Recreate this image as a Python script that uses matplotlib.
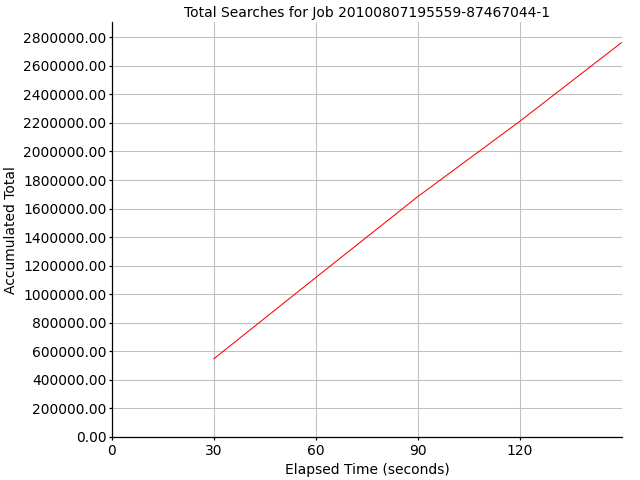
import matplotlib
matplotlib.use('Agg')
import matplotlib.pyplot as plt
from matplotlib.ticker import FormatStrFormatter

# elapsed seconds and accumulated total searches
elapsed = [30, 60, 90, 120, 150]
total = [548000, 1117000, 1683000, 2210000, 2762000]

title = 'Total Searches for Job 20100807195559-87467044-1'

fig = plt.figure(figsize=(6.4, 4.8), dpi=100)
ax = fig.add_axes([0.175, 0.0896, 0.797, 0.864])

ax.plot(elapsed, total, color='red', linewidth=0.75)

ax.set_xlim(0, 150.2)
ax.set_ylim(0, 2905000)
ax.set_xticks([0, 30, 60, 90, 120])
ax.set_yticks(range(0, 2800001, 200000))
ax.yaxis.set_major_formatter(FormatStrFormatter('%.2f'))

ax.grid(True, color='#c0c0c0', linewidth=0.75)
ax.set_axisbelow(True)
for s in ['top', 'right']:
    ax.spines[s].set_visible(False)
for s in ['left', 'bottom']:
    ax.spines[s].set_linewidth(0.9)
ax.tick_params(labelsize=10, length=2, width=0.9, pad=2)
ax.tick_params(axis='x', pad=3)

ax.set_title(title, fontsize=10, pad=4)
ax.set_xlabel('Elapsed Time (seconds)', fontsize=10, labelpad=4)
ax.set_ylabel('Accumulated Total', fontsize=10, labelpad=4)

fig.savefig('out.png', dpi=100)
